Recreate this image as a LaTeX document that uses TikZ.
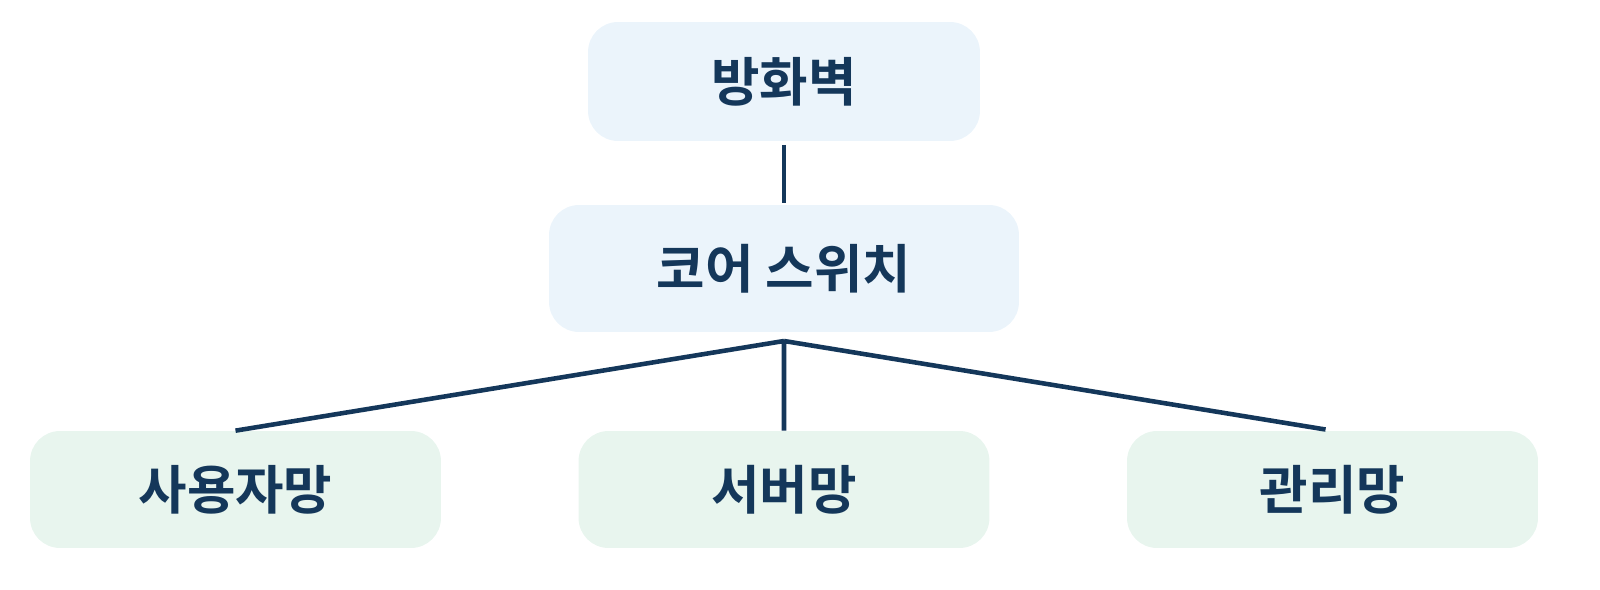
\documentclass[tikz,border=0pt]{standalone}
\usepackage{fontspec}
\newfontfamily\kr{Noto Sans CJK KR}[BoldFont={* Bold}]
\definecolor{navy}{HTML}{14375A}
\definecolor{paleblue}{HTML}{EBF4FB}
\definecolor{palegreen}{HTML}{E8F5EE}
\tikzset{
  box/.style={shape=rectangle, rounded corners=0.6cm, inner sep=0pt, text=navy,
    font=\kr\bfseries\fontsize{30}{36}\selectfont},
  core/.style={box, fill=paleblue},
  zone/.style={box, fill=palegreen, minimum width=8.22cm, minimum height=2.34cm},
  link/.style={draw=navy, line width=2.6pt}
}
\begin{document}
\begin{tikzpicture}[x=0.02cm, y=-0.02cm]
          \useasboundingbox (0,0) rectangle (1600,590);
          % nodes
          \node[core, minimum width=7.84cm, minimum height=2.38cm] at (784,81.5)
          (fw) {방화벽};
          \node[core, minimum width=9.4cm, minimum height=2.54cm] at (784,268.5)
          (sw) {코어 스위치};
          \coordinate (hub) at (784,341);
          \node[zone] at (235.5,489.5) (user) {사용자망};
          \node[zone] at (784,489.5) (srv) {서버망};
          \node[zone] at (1332.5,489.5) (mgmt) {관리망};

          % links
          \draw[link, shorten <=2pt, shorten >=1pt] (fw) -- (sw);
          \draw[link, shorten >=4pt]
          (hub) -- (user.north)
          (hub) -- (srv.north)
          (hub) -- (mgmt.north)
          ;
\end{tikzpicture}
\end{document}
